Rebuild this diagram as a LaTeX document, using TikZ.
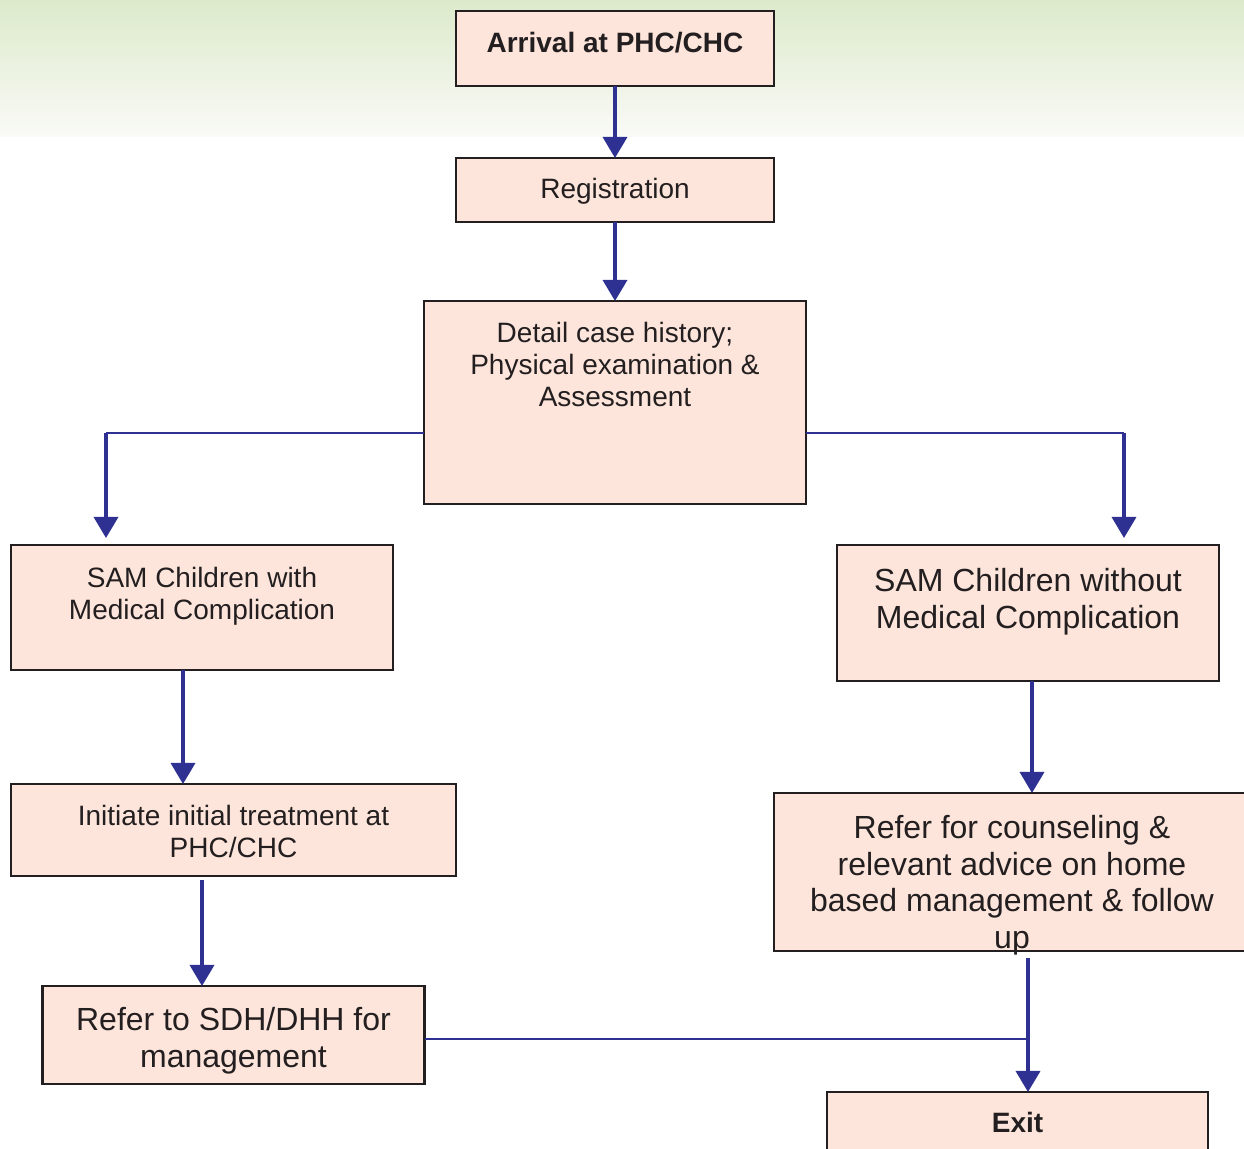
\documentclass[tikz,border=0pt]{standalone}
\usepackage{fontspec}
\setmainfont{Liberation Sans}
\usetikzlibrary{positioning,arrows.meta}
\definecolor{peach}{HTML}{FDE5DB}
\definecolor{navy}{HTML}{2E3192}
\definecolor{inkgray}{HTML}{231F20}
\definecolor{mintgreen}{HTML}{DCEACB}
\definecolor{mistwhite}{HTML}{FAFAF7}

\begin{document}
\begin{tikzpicture}[x=0.5pt,y=-0.5pt,align=center,text=inkgray]
	\tikzstyle{stepbox}=[draw=inkgray,fill=peach,line width=1.3pt,rectangle,inner sep=0pt,outer sep=0pt]
	\tikzstyle{smalltext}=[anchor=north,inner sep=0pt,align=center,font=\fontsize{14}{16}\selectfont]
	\tikzstyle{largetext}=[anchor=north,inner sep=0pt,align=center,font=\fontsize{16}{18.3}\selectfont]
	\tikzstyle{vlink}=[color=navy,line width=1.8pt,-{Triangle[width=12pt,length=10.5pt]}]
	\tikzstyle{hlink}=[color=navy,line width=1.2pt]

	\useasboundingbox (0,0) rectangle (1244,1149);
	\shade[top color=mintgreen,bottom color=mistwhite] (0,0) rectangle (1244,137);

	\node[stepbox,minimum width=159pt,minimum height=37.5pt,label={[smalltext,font=\fontsize{14}{16}\selectfont\bfseries,yshift=-10.5pt]north:Arrival at PHC/CHC}](arrival) at (615,48.5){};
	\node[stepbox,minimum width=159pt,minimum height=32pt,below=36pt of arrival,label={[smalltext,yshift=-10pt]north:Registration}](registration){};
	\node[stepbox,minimum width=191pt,minimum height=101.5pt,below=39.5pt of registration,label={[smalltext,yshift=-10.5pt]north:Detail case history;\\Physical examination \&\\Assessment}](detail){};

	\node[stepbox,minimum width=191pt,minimum height=62.5pt,below left=20.5pt and 15.5pt of detail,label={[smalltext,yshift=-11pt]north:SAM Children with\\Medical Complication}](sam_with){};
	\node[stepbox,minimum width=191pt,minimum height=68pt,below right=20.5pt and 15.5pt of detail,label={[largetext,yshift=-11.5pt]north:SAM Children without\\Medical Complication}](sam_without){};

	\node[stepbox,minimum width=222.5pt,minimum height=46pt,below=57pt of sam_with.south west,anchor=north west,label={[smalltext,yshift=-10.5pt]north:Initiate initial treatment at\\PHC/CHC}](initiate){};
	\node[stepbox,minimum width=191pt,minimum height=49pt,below=55pt of initiate,label={[largetext,yshift=-10.5pt]north:Refer to SDH/DHH for\\management}](refer_sdh){};

	\node[stepbox,minimum width=238pt,minimum height=79pt,below=56pt of sam_without,xshift=-8pt,label={[largetext,yshift=-11pt]north:Refer for counseling \&\\relevant advice on home\\based management \& follow\\up}](counseling){};
	\node[stepbox,minimum width=190.5pt,minimum height=39pt,below=70.5pt of counseling,xshift=2.75pt,label={[smalltext,font=\fontsize{14}{16}\selectfont\bfseries,yshift=-10pt]north:Exit}](exit){};

	\coordinate (split_left) at (106,433);
	\coordinate (split_right) at (1124,433);
	\coordinate (merge_point) at (1028,1039);

	\draw[vlink](arrival) -- (registration);
	\draw[vlink](registration) -- (detail);

	\draw[hlink](detail.west |- split_left) -- (split_left);
	\draw[vlink,shorten >=3.5pt](split_left) -- (sam_with.north -| split_left);
	\draw[hlink](detail.east |- split_right) -- (split_right);
	\draw[vlink,shorten >=3.5pt](split_right) -- (sam_without.north -| split_right);

	\draw[vlink]([xshift=-9.5pt]sam_with.south) -- ([xshift=-9.5pt]sam_with.south |- initiate.north);
	\draw[vlink,shorten <=2pt]([xshift=-15.75pt]initiate.south) -- ([xshift=-15.75pt]initiate.south |- refer_sdh.north);

	\draw[vlink]([xshift=2pt]sam_without.south) -- ([xshift=2pt]sam_without.south |- counseling.north);
	\draw[vlink,shorten <=3.5pt]([xshift=8pt]counseling.south) -- ([xshift=8pt]counseling.south |- exit.north);

	\draw[hlink](refer_sdh.east |- merge_point) -- (merge_point);
\end{tikzpicture}
\end{document}
